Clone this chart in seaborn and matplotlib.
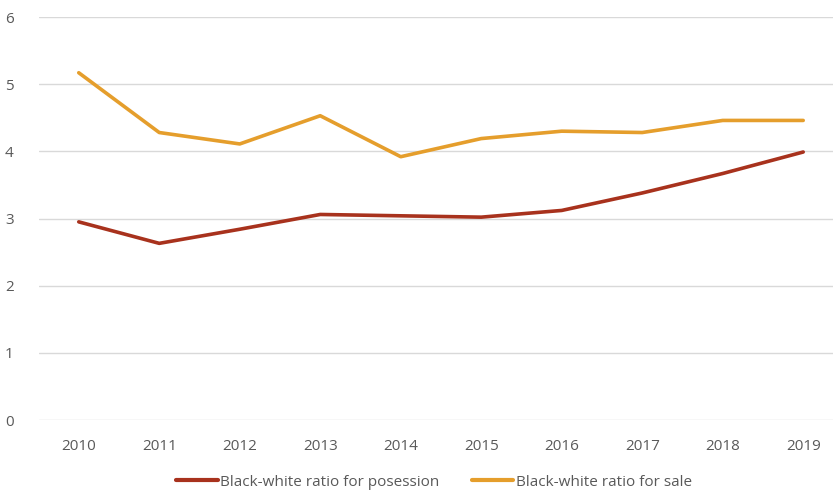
import matplotlib
matplotlib.use("Agg")
import matplotlib.pyplot as plt
import seaborn as sns
import pandas as pd

years = [2010, 2011, 2012, 2013, 2014, 2015, 2016, 2017, 2018, 2019]
possession = [2.95, 2.63, 2.84, 3.06, 3.04, 3.02, 3.12, 3.38, 3.67, 3.99]
sale = [5.17, 4.28, 4.11, 4.53, 3.92, 4.19, 4.30, 4.28, 4.46, 4.46]
series_names = ["Black-white ratio for posession", "Black-white ratio for sale"]
y_ticks = [0, 1, 2, 3, 4, 5, 6]

df = pd.DataFrame({
    "year": [str(y) for y in years] * 2,
    "ratio": possession + sale,
    "series": [series_names[0]] * len(years) + [series_names[1]] * len(years),
})

sns.set_theme(style="white")
plt.rcParams["font.family"] = ["Open Sans", "DejaVu Sans"]

fig = plt.figure(figsize=(8.33, 4.95), dpi=100)
ax = fig.add_axes([38.5 / 833, 75 / 495, (833 - 38.5) / 833, 403 / 495])

palette = {series_names[0]: "#A8321D", series_names[1]: "#E59E2C"}
sns.lineplot(data=df, x="year", y="ratio", hue="series", palette=palette,
             linewidth=2.6, sort=False, ax=ax, legend=False)

ax.set_ylim(0, 6)
ax.set_xlim(-0.5, 9.37)
ax.set_yticks(y_ticks)
ax.yaxis.grid(True, color="#D9D9D9", linewidth=1.0)
ax.xaxis.grid(False)
ax.set_axisbelow(True)
for s in ax.spines.values():
    s.set_visible(False)
ax.set_xlabel("")
ax.set_ylabel("")
ax.tick_params(axis="y", length=0, pad=18, labelsize=11, labelcolor="#595959")
ax.tick_params(axis="x", length=0, pad=14, labelsize=11, labelcolor="#595959")

handles = [plt.Line2D([], [], color=palette[n], linewidth=3) for n in series_names]
fig.legend(handles, series_names, loc="center", bbox_to_anchor=(434 / 833, 1 - 482 / 495),
           ncol=2, frameon=False, fontsize=11, labelcolor="#595959",
           handlelength=2.7, handletextpad=0.15, columnspacing=2.15)

fig.savefig("out.png", dpi=100, facecolor="white")
